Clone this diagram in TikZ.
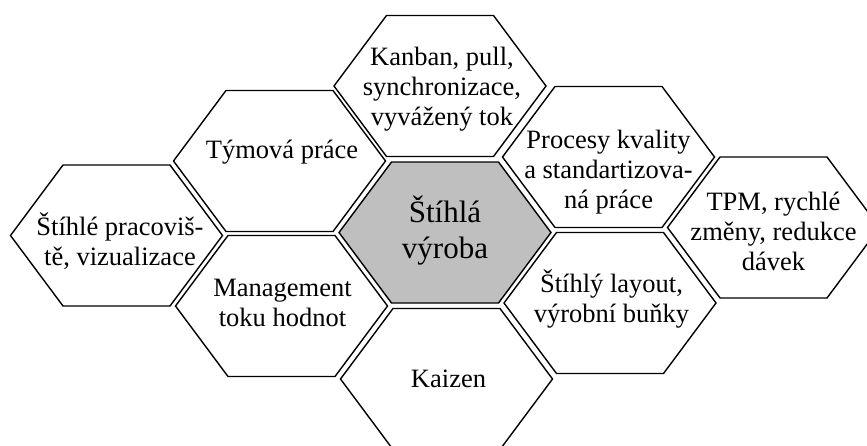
\documentclass[tikz,border=0pt]{standalone}
\usepackage{fontspec}
\setmainfont{Liberation Serif}
\tikzset{
  hexline/.style={line width=1.4pt, line join=miter, draw=black},
  hextext/.style={align=center, font=\fontsize{26.5}{30}\selectfont, inner sep=0pt, anchor=base},
  bigtext/.style={align=center, font=\fontsize{31}{36}\selectfont, inner sep=0pt, anchor=base},
}
\newcommand\hexoutline[3]{% x, y, fill
  \filldraw[hexline, fill=#3] (#1-106,#2) -- (#1-53.5,#2-70.5) -- (#1+53.5,#2-70.5)
    -- (#1+106,#2) -- (#1+53.5,#2+70.5) -- (#1-53.5,#2+70.5) -- cycle;}
\begin{document}
\begin{tikzpicture}[x=1pt,y=-1pt]
\useasboundingbox (0,0) rectangle (867,445);
\clip (0,0) rectangle (867,445);
% outlines
\hexoutline{440}{86}{white}
\hexoutline{279.5}{161}{white}
\hexoutline{116.5}{235.5}{white}
\hexoutline{281.5}{306}{white}
\hexoutline{446.5}{379}{white}
\hexoutline{445}{232.5}{gray!50}
\hexoutline{608.5}{157}{white}
\hexoutline{773.5}{227.5}{white}
\hexoutline{610}{303}{white}
% texts (base anchor = baseline of last line)
\node[hextext] (kanban) at (442,125) {Kanban, pull,\\synchronizace,\\vyvážený tok};
\node[hextext] (tym) at (282,158) {Týmová práce};
\node[hextext] (prac) at (120,265) {Štíhlé pracoviš-\\tě, vizualizace};
\node[hextext] (mgmt) at (282.5,326) {Management\\toku hodnot};
\node[hextext] (kaizen) at (448.5,387) {Kaizen};
\node[bigtext] (center) at (445,258) {Štíhlá\\výroba};
\node[hextext] (proc) at (608.5,208) {Procesy kvality\\a standartizova-\\ná práce};
\node[hextext] (tpm) at (773.5,270) {TPM, rychlé\\změny, redukce\\dávek};
\node[hextext] (layout) at (611.5,322) {Štíhlý layout,\\výrobní buňky};
\end{tikzpicture}
\end{document}
